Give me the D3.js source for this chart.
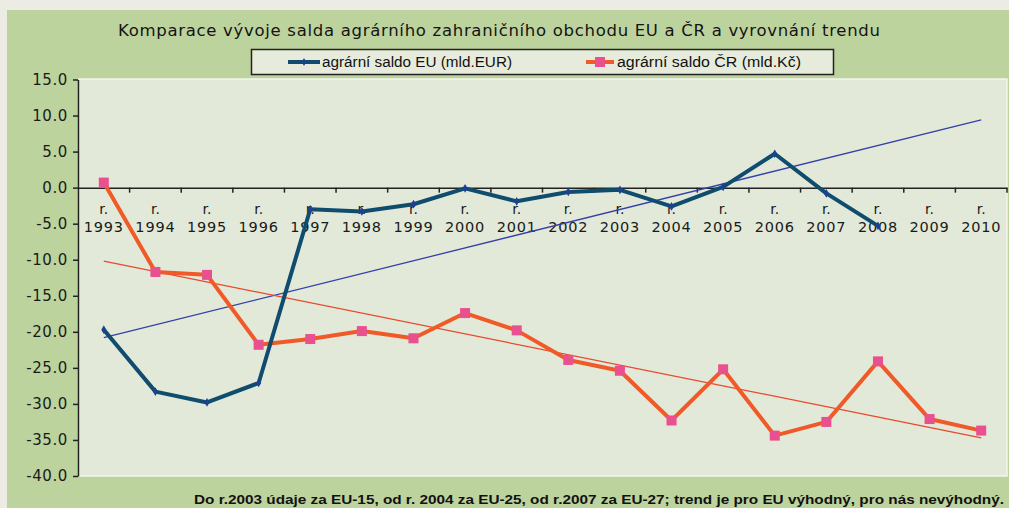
<!DOCTYPE html>
<html><head><meta charset="utf-8">
<script src="https://cdn.jsdelivr.net/npm/d3@7"></script>
<style>html,body{margin:0;padding:0;background:#ecece4;}svg{display:block;}</style>
</head><body>
<script>
const years = ["1993","1994","1995","1996","1997","1998","1999","2000","2001","2002","2003","2004","2005","2006","2007","2008","2009","2010"];
const saldoEU = [-19.7,-28.3,-29.8,-27.1,-3.0,-3.3,-2.3,-0.1,-1.9,-0.6,-0.3,-2.6,0.1,4.7,-0.8,-5.3];
const saldoCR = [0.7,-11.7,-12.1,-21.8,-21.0,-19.9,-20.9,-17.4,-19.8,-23.9,-25.4,-32.3,-25.2,-34.4,-32.5,-24.1,-32.1,-33.7];
const trendYears = ["1993","2010"];
const trendEU = [-20.8, 9.4];
const trendCR = [-10.2, -34.7];
const yTicks = [15,10,5,0,-5,-10,-15,-20,-25,-30,-35,-40];
const titleText = "Komparace vývoje salda agrárního zahraničního obchodu EU a ČR a vyrovnání trendu";
const legendEU = "agrární saldo EU (mld.EUR)";
const legendCR = "agrární saldo ČR (mld.Kč)";
const footText = "Do r.2003 údaje za EU-15, od r. 2004 za EU-25, od r.2007 za EU-27; trend je pro EU výhodný, pro nás nevýhodný.";

const W = 1009, H = 508;
const svg = d3.select("body").append("svg").attr("width", W).attr("height", H);

// backgrounds
svg.append("rect").attr("x",0).attr("y",0).attr("width",W).attr("height",H).attr("fill","#ecece4");
svg.append("rect").attr("x",7).attr("y",10).attr("width",W-7).attr("height",H-10).attr("fill","#bdd39d");

const x = d3.scaleBand().domain(years).range([78, 1007]).padding(0);
const y = d3.scaleLinear().domain([-40, 15]).range([476, 79.5]);
const cx = d => x(d) + x.bandwidth()/2;

// plot area
svg.append("rect").attr("x",79).attr("y",79).attr("width",1007-79).attr("height",476-79)
  .attr("fill","#e3e9d8").attr("stroke","#f2f5ec").attr("stroke-width",1.5);

// title
svg.append("text").attr("x",499).attr("y",36).attr("text-anchor","middle")
  .attr("font-family","DejaVu Sans").attr("font-size",16.5).attr("fill","#141414")
  .attr("textLength",762).attr("lengthAdjust","spacing").text(titleText);

// legend
const lg = svg.append("g");
lg.append("rect").attr("x",251.5).attr("y",49.5).attr("width",582).attr("height",25)
  .attr("fill","#e6ebdc").attr("stroke","#222").attr("stroke-width",1.5);
lg.append("line").attr("x1",288).attr("x2",320).attr("y1",62).attr("y2",62).attr("stroke","#0f4c6e").attr("stroke-width",4);
lg.append("path").attr("d",d3.symbol(d3.symbolDiamond,18)()).attr("transform","translate(304,62)").attr("fill","#1f3f95");
lg.append("text").attr("x",322).attr("y",67).attr("font-family","Liberation Sans").attr("font-size",14).attr("fill","#111")
  .attr("textLength",190).attr("lengthAdjust","spacingAndGlyphs").text(legendEU);
lg.append("line").attr("x1",586).attr("x2",614).attr("y1",62).attr("y2",62).attr("stroke","#f05a28").attr("stroke-width",4);
lg.append("rect").attr("x",595).attr("y",57).attr("width",10).attr("height",10).attr("fill","#e9508f");
lg.append("text").attr("x",617).attr("y",67).attr("font-family","Liberation Sans").attr("font-size",14).attr("fill","#111")
  .attr("textLength",184).attr("lengthAdjust","spacingAndGlyphs").text(legendCR);

// y axis
const fmt = d => d3.format(".1f")(d).replace("\u2212","-");
const yAxis = d3.axisLeft(y).tickValues(yTicks).tickFormat(fmt).tickSize(5).tickSizeOuter(0);
const yg = svg.append("g").attr("transform","translate(78,0)").call(yAxis);
yg.select(".domain").attr("stroke","#222").attr("stroke-width",1.5);
yg.selectAll(".tick line").attr("stroke","#222").attr("stroke-width",1.5);
yg.selectAll(".tick text").attr("font-family","DejaVu Sans").attr("font-size",15).attr("fill","#1a1a1a")
  .attr("letter-spacing","0.6px").attr("x",-10);

// x axis at zero
const xAxis = d3.axisBottom(x).tickSize(0).tickFormat("");
const xg = svg.append("g").attr("transform",`translate(0,${y(0)})`).call(xAxis);
xg.select(".domain").attr("stroke","#222").attr("stroke-width",1.5);
const bounds = years.map(d => x(d)).concat([x(years[years.length-1]) + x.bandwidth()]);
xg.selectAll("line.bt").data(bounds.slice(1)).enter().append("line").attr("class","bt")
  .attr("x1",d=>d).attr("x2",d=>d).attr("y1",0).attr("y2",5).attr("stroke","#222").attr("stroke-width",1.5);
const lab = svg.append("g");
years.forEach(yr => {
  lab.append("text").attr("x",cx(yr)).attr("y",214).attr("text-anchor","middle")
    .attr("font-family","DejaVu Sans").attr("font-size",14).attr("fill","#1a1a1a").text("r.");
  lab.append("text").attr("x",cx(yr)).attr("y",232).attr("text-anchor","middle")
    .attr("font-family","DejaVu Sans").attr("font-size",14.5).attr("letter-spacing","0.8px").attr("fill","#1a1a1a").text(yr);
});

// trend lines
const tline = d3.line().x(d=>cx(d[0])).y(d=>y(d[1]));
svg.append("path").datum(trendYears.map((d,i)=>[d,trendEU[i]])).attr("d",tline)
  .attr("fill","none").attr("stroke","#3440a8").attr("stroke-width",1.3);
svg.append("path").datum(trendYears.map((d,i)=>[d,trendCR[i]])).attr("d",tline)
  .attr("fill","none").attr("stroke","#e8482c").attr("stroke-width",1.2);

// series
const line = d3.line().x(d=>cx(d[0])).y(d=>y(d[1]));
const euData = saldoEU.map((v,i)=>[years[i],v]);
const crData = saldoCR.map((v,i)=>[years[i],v]);

svg.append("path").datum(crData).attr("d",line).attr("fill","none")
  .attr("stroke","#f05a28").attr("stroke-width",4).attr("stroke-linejoin","round");
svg.selectAll("rect.cr").data(crData).enter().append("rect").attr("class","cr")
  .attr("x",d=>cx(d[0])-5).attr("y",d=>y(d[1])-5).attr("width",10).attr("height",10).attr("fill","#e9508f");

svg.append("path").datum(euData).attr("d",line).attr("fill","none")
  .attr("stroke","#0f4c6e").attr("stroke-width",4).attr("stroke-linejoin","round");
svg.selectAll("path.eu").data(euData).enter().append("path").attr("class","eu")
  .attr("d",d3.symbol(d3.symbolDiamond,22)())
  .attr("transform",d=>`translate(${cx(d[0])},${y(d[1])})`).attr("fill","#1f3f95");

// footer
svg.append("text").attr("x",1004).attr("y",504).attr("text-anchor","end")
  .attr("font-family","Liberation Sans").attr("font-weight","bold").attr("font-size",13).attr("fill","#111")
  .attr("textLength",810).attr("lengthAdjust","spacingAndGlyphs").text(footText);
</script>
</body></html>
